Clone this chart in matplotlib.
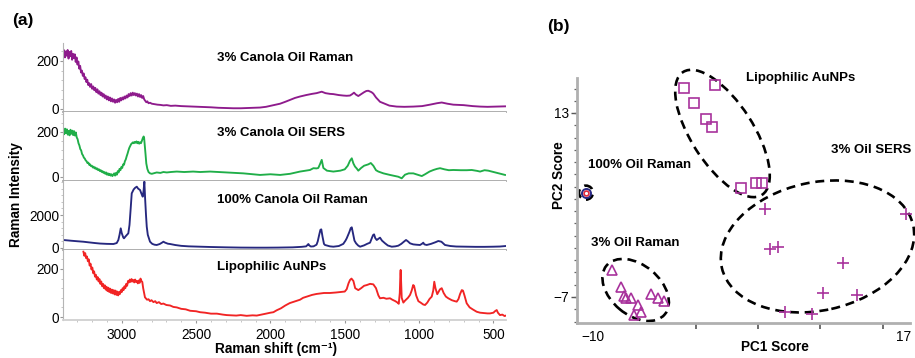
import matplotlib
matplotlib.use("Agg")
import matplotlib.pyplot as plt
from matplotlib.patches import Ellipse
from matplotlib.transforms import ScaledTranslation
from matplotlib.ticker import MultipleLocator, FixedLocator
import numpy as np

plt.rcParams['font.family'] = ['Liberation Sans', 'DejaVu Sans']

# ---- (a) spectra ----
raman3_wn = [3393, 3388, 3382, 3376, 3370, 3364, 3358, 3352, 3346, 3340, 3334, 3328, 3322, 3316, 3310, 3304,
             3298, 3292, 3286, 3280, 3274, 3268, 3262, 3256, 3250, 3244, 3238, 3232, 3226, 3220, 3213, 3206,
             3199, 3192, 3185, 3178, 3171, 3164, 3157, 3150, 3143, 3136, 3129, 3122, 3115, 3108, 3101, 3094,
             3087, 3080, 3073, 3066, 3059, 3052, 3045, 3038, 3031, 3024, 3017, 3010, 3003, 2996, 2989, 2982,
             2975, 2968, 2961, 2954, 2947, 2940, 2933, 2926, 2919, 2912, 2905, 2898, 2891, 2884, 2877, 2870,
             2863, 2856, 2849, 2842, 2835, 2828, 2820, 2810, 2798, 2780, 2760, 2740, 2720, 2697, 2670, 2640,
             2600, 2560, 2520, 2480, 2440, 2400, 2350, 2294, 2250, 2200, 2150, 2100, 2070, 2030, 2000, 1970,
             1935, 1900, 1868, 1835, 1801, 1760, 1720, 1690, 1655, 1630, 1600, 1577, 1540, 1510, 1487, 1465,
             1450, 1438, 1425, 1409, 1390, 1370, 1355, 1342, 1320, 1308, 1290, 1263, 1240, 1200, 1151, 1100,
             1039, 980, 927, 880, 848, 810, 770, 700, 640, 590, 540, 480, 422]
raman3_int = [228, 245, 215, 240, 222, 246, 210, 238, 220, 242, 205, 230, 212, 228, 196, 215,
              185, 198, 168, 180, 152, 160, 138, 148, 125, 132, 112, 122, 100, 108, 92, 104,
              84, 94, 78, 88, 70, 82, 64, 74, 58, 68, 52, 62, 46, 56, 40, 52,
              36, 48, 32, 44, 30, 40, 26, 38, 28, 42, 30, 46, 36, 48, 40, 52,
              44, 56, 48, 62, 54, 66, 56, 68, 58, 66, 56, 64, 52, 62, 50, 58,
              46, 54, 40, 34, 28, 32, 24, 26, 22, 20, 18, 17, 15, 16, 13, 14,
              12, 11, 10, 9, 8, 7, 5, 4, 3, 3, 4, 5, 6, 9, 13, 17,
              22, 30, 38, 46, 52, 58, 63, 66, 72, 66, 63, 62, 58, 56, 55, 56,
              62, 68, 60, 54, 62, 70, 75, 76, 70, 64, 48, 30, 24, 14, 10, 9,
              10, 12, 18, 24, 27, 22, 18, 16, 12, 10, 9, 10, 11]

sers3_wn = [3393, 3387, 3381, 3375, 3369, 3363, 3357, 3351, 3345, 3339, 3333, 3327, 3321, 3315, 3309, 3303,
            3297, 3291, 3285, 3279, 3273, 3267, 3261, 3255, 3249, 3243, 3237, 3231, 3225, 3219, 3213, 3207,
            3201, 3195, 3189, 3183, 3177, 3171, 3165, 3159, 3153, 3147, 3141, 3135, 3129, 3123, 3117, 3111,
            3105, 3099, 3093, 3087, 3081, 3075, 3069, 3063, 3057, 3051, 3045, 3039, 3033, 3027, 3021, 3015,
            3009, 3003, 2997, 2991, 2985, 2979, 2973, 2967, 2961, 2955, 2949, 2943, 2937, 2931, 2925, 2919,
            2913, 2907, 2901, 2895, 2889, 2883, 2877, 2871, 2865, 2859, 2853, 2850, 2845, 2840, 2835, 2828,
            2820, 2810, 2798, 2787, 2765, 2740, 2720, 2697, 2670, 2630, 2580, 2520, 2473, 2406, 2350, 2294,
            2249, 2182, 2120, 2070, 2000, 1935, 1868, 1801, 1760, 1734, 1711, 1690, 1678, 1666, 1655, 1644,
            1620, 1577, 1530, 1500, 1480, 1465, 1453, 1442, 1431, 1420, 1409, 1390, 1370, 1342, 1325, 1308,
            1290, 1274, 1240, 1196, 1160, 1140, 1117, 1100, 1095, 1070, 1039, 1010, 982, 960, 930, 904,
            880, 859, 830, 800, 770, 720, 680, 646, 610, 590, 560, 535, 500, 456, 422]
sers3_int = [209, 190, 215, 195, 212, 188, 205, 185, 210, 192, 206, 186, 204, 184, 198, 176,
             168, 150, 140, 124, 118, 102, 96, 86, 82, 74, 70, 62, 64, 54, 56, 48,
             50, 42, 46, 38, 42, 34, 38, 30, 34, 26, 30, 22, 26, 18, 22, 14,
             20, 10, 16, 8, 14, 6, 12, 4, 10, 16, 6, 18, 10, 26, 20, 36,
             30, 44, 40, 56, 54, 70, 78, 92, 104, 118, 130, 138, 146, 150, 154, 150,
             156, 152, 158, 150, 156, 148, 154, 150, 160, 172, 180, 176, 140, 100, 60, 36,
             22, 16, 14, 16, 20, 18, 22, 20, 22, 24, 22, 24, 22, 24, 22, 20,
             18, 16, 12, 9, 12, 9, 14, 24, 28, 31, 39, 38, 40, 58, 76, 40,
             28, 24, 28, 34, 50, 72, 83, 60, 46, 38, 28, 40, 50, 56, 62, 50,
             30, 24, 16, 9, 4, 1, -6, 6, 10, 16, 16, 10, 4, 12, 24, 31,
             36, 39, 34, 30, 31, 30, 30, 31, 27, 24, 30, 28, 22, 14, 9]

oil100_wn = [3393, 3340, 3300, 3258, 3220, 3180, 3146, 3100, 3056, 3034, 3023, 3015, 3007, 3000, 2990, 2985,
             2975, 2962, 2956, 2948, 2940, 2933, 2920, 2910, 2899, 2890, 2877, 2868, 2859, 2853, 2848, 2843,
             2837, 2832, 2825, 2810, 2795, 2780, 2765, 2745, 2730, 2720, 2710, 2690, 2675, 2640, 2600, 2550,
             2473, 2400, 2300, 2200, 2100, 2025, 1950, 1850, 1790, 1760, 1750, 1745, 1738, 1728, 1710, 1690,
             1682, 1672, 1664, 1658, 1650, 1640, 1633, 1600, 1577, 1540, 1510, 1495, 1487, 1470, 1460, 1453,
             1445, 1435, 1424, 1410, 1397, 1370, 1350, 1330, 1318, 1310, 1303, 1295, 1285, 1275, 1263, 1250,
             1229, 1210, 1184, 1160, 1140, 1120, 1100, 1088, 1075, 1061, 1040, 1020, 994, 980, 972, 965,
             949, 920, 890, 871, 850, 826, 790, 750, 680, 620, 560, 500, 456, 416]
oil100_int = [485, 440, 410, 380, 340, 300, 270, 250, 242, 300, 485, 800, 1192, 900, 640, 586,
              700, 830, 889, 1400, 2400, 3313, 3550, 3650, 3717, 3600, 3515, 3300, 3111, 3500, 4020, 3000,
              2000, 1293, 800, 382, 250, 200, 182, 240, 320, 382, 330, 260, 242, 180, 130, 100,
              79, 60, 40, 25, 20, 20, 25, 40, 70, 100, 190, 242, 150, 90, 100, 200,
              400, 800, 1100, 1131, 700, 250, 182, 100, 79, 120, 250, 450, 586, 950, 1200, 1253,
              900, 450, 283, 150, 79, 160, 250, 323, 600, 780, 828, 600, 485, 550, 626, 450,
              283, 150, 79, 100, 140, 250, 400, 485, 400, 283, 220, 200, 182, 260, 323, 220,
              182, 250, 350, 424, 380, 182, 120, 90, 79, 70, 70, 79, 90, 121]

aunp_wn = [3258, 3252, 3246, 3240, 3234, 3228, 3222, 3216, 3210, 3204, 3198, 3192, 3186, 3180, 3174, 3168,
           3162, 3156, 3150, 3144, 3138, 3132, 3126, 3120, 3114, 3108, 3102, 3096, 3090, 3084, 3078, 3072,
           3066, 3060, 3054, 3048, 3042, 3036, 3030, 3024, 3018, 3012, 3006, 3000, 2994, 2988, 2982, 2976,
           2970, 2964, 2958, 2952, 2946, 2940, 2934, 2928, 2922, 2916, 2910, 2904, 2898, 2892, 2886, 2880,
           2874, 2868, 2862, 2856, 2850, 2844, 2838, 2830, 2820, 2810, 2800, 2787, 2775, 2765, 2750, 2735,
           2720, 2700, 2675, 2653, 2630, 2600, 2570, 2540, 2500, 2473, 2440, 2400, 2360, 2320, 2294, 2260,
           2230, 2200, 2160, 2120, 2092, 2060, 2030, 2000, 1980, 1958, 1930, 1900, 1870, 1840, 1801, 1780,
           1750, 1720, 1690, 1666, 1640, 1600, 1560, 1530, 1500, 1487, 1475, 1465, 1455, 1442, 1430, 1409,
           1390, 1370, 1352, 1330, 1308, 1290, 1274, 1263, 1240, 1220, 1196, 1180, 1160, 1145, 1137, 1130,
           1126, 1124, 1121, 1117, 1106, 1095, 1075, 1061, 1050, 1040, 1034, 1020, 1005, 990, 972, 960,
           945, 930, 915, 905, 898, 890, 878, 870, 860, 848, 835, 820, 804, 780, 760, 747,
           735, 725, 713, 705, 695, 680, 660, 640, 613, 590, 560, 540, 523, 500, 490, 478,
           470, 456, 440, 425, 416]
aunp_int = [272, 255, 266, 245, 252, 232, 240, 214, 222, 198, 206, 182, 190, 168, 176, 156,
            166, 148, 158, 138, 148, 128, 138, 120, 132, 114, 126, 108, 122, 104, 118, 100,
            114, 98, 112, 94, 110, 92, 106, 90, 104, 96, 112, 104, 120, 112, 128, 120,
            138, 130, 150, 144, 156, 146, 158, 148, 154, 144, 156, 146, 150, 140, 152, 142,
            160, 150, 146, 120, 100, 82, 78, 72, 74, 66, 70, 62, 66, 58, 62, 54,
            56, 50, 48, 42, 40, 34, 32, 26, 24, 20, 18, 14, 14, 10, 8, 7,
            6, 8, 5, 7, 6, 10, 14, 18, 20, 28, 36, 48, 58, 64, 72, 80,
            86, 92, 96, 98, 100, 100, 102, 104, 106, 116, 140, 154, 160, 150, 120, 112,
            120, 130, 133, 138, 136, 120, 90, 78, 80, 76, 78, 72, 66, 60, 55, 100,
            180, 196, 150, 80, 60, 68, 80, 92, 110, 133, 130, 90, 66, 60, 52, 50,
            60, 75, 85, 110, 147, 120, 95, 104, 115, 120, 100, 85, 78, 70, 66, 64,
            75, 95, 112, 110, 90, 57, 40, 32, 22, 18, 16, 15, 15, 18, 24, 29,
            18, 8, 10, 4, 6]

spectra = [
    (raman3_wn, raman3_int, '#8E1B8C', '3% Canola Oil Raman', (-12.5, 275), [0, 200], 0.78),
    (sers3_wn, sers3_int, '#1FAE48', '3% Canola Oil SERS', (-18, 289), [0, 200], 0.70),
    (oil100_wn, oil100_int, '#26287F', '100% Canola Oil Raman', (-121, 4061), [0, 2000], 0.72),
    (aunp_wn, aunp_int, '#F12424', 'Lipophilic AuNPs', (-12.5, 279), [0, 200], 0.76),
]

# ---- (b) PCA scores ----
oil100_pc1 = [-10.61]
oil100_pc2 = [4.34]
aunp_pc1 = [-2.06, 0.64, -1.24, -0.17, 0.37, 2.87, 4.15, 4.67]
aunp_pc2 = [15.68, 16.04, 14.12, 12.35, 11.48, 4.82, 5.36, 5.42]
sers_pc1 = [4.93, 17.19, 5.36, 6.09, 11.77, 9.97, 12.98, 6.72, 9.01]
sers_pc2 = [2.60, 1.99, -1.75, -1.53, -3.30, -6.60, -6.82, -8.66, -8.88]
raman_pc1 = [-8.35, -7.57, -7.30, -7.13, -6.72, -6.06, -5.80, -6.41, -4.96, -4.35, -3.83]
raman_pc2 = [-4.07, -5.88, -6.89, -7.08, -7.14, -7.87, -8.60, -8.96, -6.67, -7.14, -7.43]

fig = plt.figure(figsize=(9.15, 3.58), dpi=100)

edges = [0.8799, 0.6872, 0.4944, 0.3017, 0.1061]
axes_a = []
for i, (wn, inten, col, name, ylim, yt, ty) in enumerate(spectra):
    ax = fig.add_axes([0.0689, edges[i + 1], 0.4842, edges[i] - edges[i + 1]])
    ax.plot(wn, inten, color=col, lw=1.35)
    ax.set_xlim(3395, 415)
    ax.set_ylim(*ylim)
    ax.set_yticks(yt)
    ax.yaxis.set_minor_locator(MultipleLocator(yt[1] / 5))
    for s in ['top', 'right']:
        ax.spines[s].set_visible(False)
    ax.spines['left'].set_color('#b5b5b5')
    ax.spines['bottom'].set_color('#a8a8a8')
    ax.spines['bottom'].set_linewidth(1.3)
    ax.tick_params(axis='y', which='major', length=2, pad=1, labelsize=9.8, color='#999999')
    ax.tick_params(axis='y', which='minor', length=1.5, color='#bbbbbb')
    ax.text(0.348, ty, name, transform=ax.transAxes, fontsize=9.5, fontweight='bold', va='center')
    if i < 3:
        ax.set_xticks([])
        ax.tick_params(axis='x', which='both', length=0)
    else:
        ax.set_xticks([3000, 2500, 2000, 1500, 1000, 500])
        ax.xaxis.set_minor_locator(MultipleLocator(100))
        ax.tick_params(axis='x', which='major', length=2.5, pad=3, labelsize=9.8, color='#999999')
        ax.tick_params(axis='x', which='minor', length=1.5, color='#bbbbbb')
        ax.spines['bottom'].set_color('#d0d0d0')
    axes_a.append(ax)

fig.text(276 / 915, 1 - 349 / 358, 'Raman shift (cm\u207b\u00b9)', ha='center', va='center',
         fontsize=9.8, fontweight='bold')
fig.text(16 / 915, 1 - 195 / 358, 'Raman Intensity', rotation=90, ha='center', va='center',
         fontsize=9.8, fontweight='bold')
fig.text(23 / 915, 1 - 20 / 358, '(a)', ha='center', va='center', fontsize=12.5, fontweight='bold')
fig.text(558 / 915, 1 - 26 / 358, '(b)', ha='center', va='center', fontsize=12.5, fontweight='bold')

# ---- (b) ----
bx = fig.add_axes([0.6306, 0.0978, 0.3639, 0.6843])
bx.set_xlim(-11.39, 17.56)
bx.set_ylim(-9.83, 16.8)
mag = '#A8329C'
bx.plot(aunp_pc1, aunp_pc2, 's', ms=6.8, mfc='none', mec=mag, mew=1.2, clip_on=False)
bx.plot(sers_pc1, sers_pc2, '+', ms=8, mec=mag, mew=1.2, clip_on=False)
bx.plot(raman_pc1, raman_pc2, '^', ms=7, mfc='none', mec=mag, mew=1.2, clip_on=False)
bx.plot(oil100_pc1, oil100_pc2, 'o', ms=6.5, mfc='none', mec='#2B2A86', mew=1.4, clip_on=False)
bx.plot(oil100_pc1, oil100_pc2, 'o', ms=3.5, mfc='none', mec='#E0283C', mew=1.2, clip_on=False)

# dashed group outlines: centre (data), width/height (inches), angle (deg)
groups = [
    ((1.26, 10.77), 0.62, 1.46, 32.7),
    ((9.52, -1.51), 1.96, 1.28, 12.5),
    ((-6.29, -6.24), 0.76, 0.50, -40),
    ((-10.61, 4.34), 0.14, 0.14, 0),
]
for (cx, cy), w, h, ang in groups:
    tr = fig.dpi_scale_trans + ScaledTranslation(cx, cy, bx.transData)
    bx.add_patch(Ellipse((0, 0), w, h, angle=ang, transform=tr, fill=False, ec='black',
                         lw=1.9, ls=(0, (3.4, 2.2)), clip_on=False))

bx.text(8.09, 16.8, 'Lipophilic AuNPs', ha='center', va='center', fontsize=9.5, fontweight='bold')
bx.text(14.17, 8.98, '3% Oil SERS', ha='center', va='center', fontsize=9.5, fontweight='bold')
bx.text(-5.91, 7.35, '100% Oil Raman', ha='center', va='center', fontsize=9.5, fontweight='bold')
bx.text(-6.35, -1.13, '3% Oil Raman', ha='center', va='center', fontsize=9.5, fontweight='bold')

for s in ['top', 'right']:
    bx.spines[s].set_visible(False)
for s in ['left', 'bottom']:
    bx.spines[s].set_color('#b0b0b0')
    bx.spines[s].set_linewidth(2)
bx.set_xticks([-10, 17])
bx.xaxis.set_minor_locator(FixedLocator([-1, 4.35, 9.75, 15.2]))
bx.set_yticks([13, -7])
bx.yaxis.set_minor_locator(FixedLocator(list(np.arange(-9.67, 16.5, 1.333))))
bx.tick_params(axis='x', which='major', length=0, pad=5, labelsize=9.8)
bx.tick_params(axis='x', which='minor', length=4, width=1.2, color='#555555')
bx.tick_params(axis='y', which='major', length=4, width=1, pad=2, labelsize=9.8, color='#555555')
bx.tick_params(axis='y', which='minor', length=2.5, width=0.9, color='#666666')
fig.text(775 / 915, 1 - 347 / 358, 'PC1 Score', ha='center', va='center',
         fontsize=9.8, fontweight='bold')
fig.text(559 / 915, 1 - 175 / 358, 'PC2 Score', rotation=90, ha='center', va='center',
         fontsize=9.8, fontweight='bold')

fig.savefig('out.png', dpi=100)
